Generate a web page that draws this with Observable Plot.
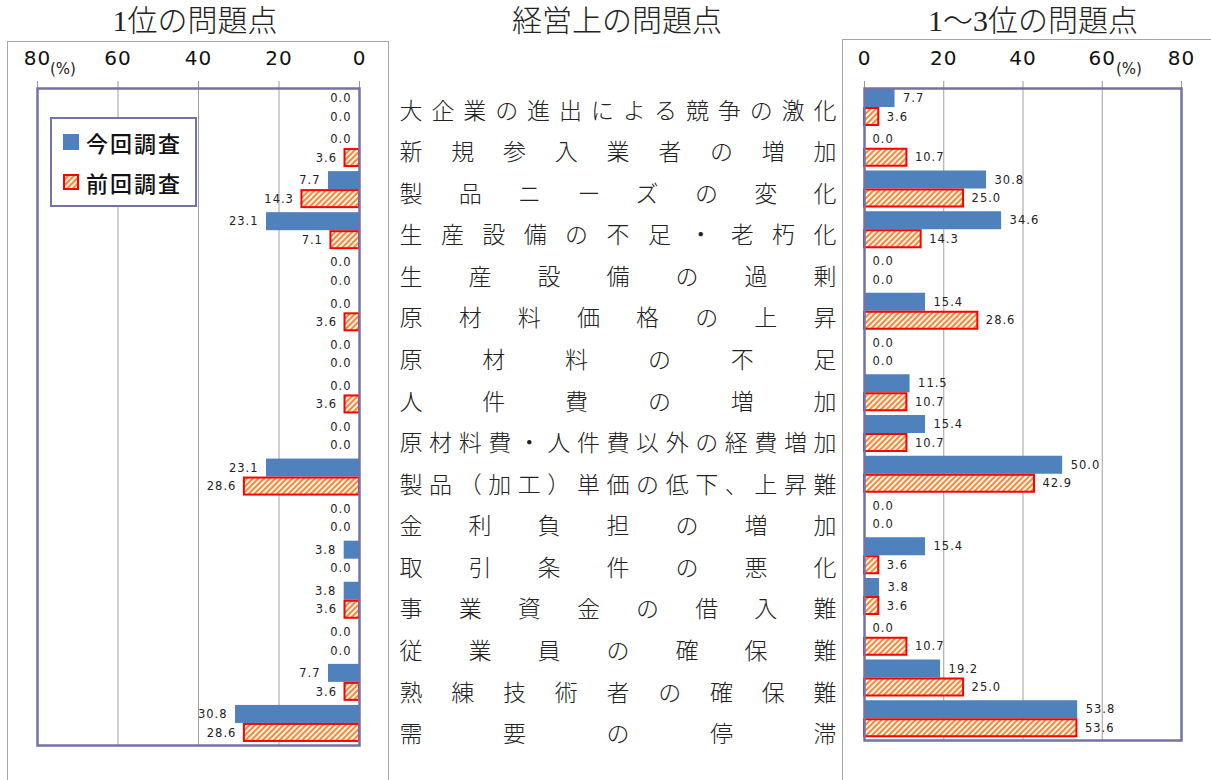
<!DOCTYPE html>
<html lang="ja">
<head>
<meta charset="utf-8">
<script src="https://cdn.jsdelivr.net/npm/d3@7"></script>
<script src="https://cdn.jsdelivr.net/npm/@observablehq/plot@0.6"></script>
<style>
  html, body { margin: 0; padding: 0; background: #fff; }
  #root { position: relative; width: 1211px; height: 780px; overflow: hidden; background: #fff; }
  .abs { position: absolute; }
  .title { position: absolute; top: 2px; font-family: "Liberation Serif", "Noto Sans CJK JP", serif; font-weight: 300; font-size: 30px; color: #222; transform: translateX(-50%); white-space: nowrap; line-height: 38px; }
  .outer { position: absolute; border: 1.5px solid #a6a6a6; border-bottom: none; pointer-events: none; z-index: 5; }
  .pct { position: absolute; font-family: "DejaVu Sans", sans-serif; font-size: 15px; color: #222; transform: translate(-50%, -50%); white-space: nowrap; }
  .legend { position: absolute; left: 50px; top: 117px; width: 143px; height: 86px; border: 2px solid #7373a6; background: #fff; z-index: 6; font-family: "Noto Sans CJK JP", sans-serif; font-weight: 500; font-size: 22px; letter-spacing: 2px; color: #111; }
  .legend .row { position: absolute; left: 11px; display: flex; align-items: center; height: 24px; }
</style>
</head>
<body>
<svg width="0" height="0" style="position:absolute">
  <defs>
    <pattern id="hatch" patternUnits="userSpaceOnUse" width="4" height="4" patternTransform="rotate(45)">
      <rect x="0" y="0" width="4" height="4" fill="#ffffff"></rect>
      <rect x="0" y="0" width="2.2" height="4" fill="#f28a3a"></rect>
    </pattern>
  </defs>
</svg>
<div id="root"></div>
<script>
// ---- data ----
const categories = [
  "大企業の進出による競争の激化",
  "新規参入業者の増加",
  "製品ニーズの変化",
  "生産設備の不足・老朽化",
  "生産設備の過剰",
  "原材料価格の上昇",
  "原材料の不足",
  "人件費の増加",
  "原材料費・人件費以外の経費増加",
  "製品（加工）単価の低下、上昇難",
  "金利負担の増加",
  "取引条件の悪化",
  "事業資金の借入難",
  "従業員の確保難",
  "熟練技術者の確保難",
  "需要の停滞"
];
const seriesNames = ["今回調査", "前回調査"];
const rank1Current  = [0.0, 0.0, 7.7, 23.1, 0.0, 0.0, 0.0, 0.0, 0.0, 23.1, 0.0, 3.8, 3.8, 0.0, 7.7, 30.8];
const rank1Previous = [0.0, 3.6, 14.3, 7.1, 0.0, 3.6, 0.0, 3.6, 0.0, 28.6, 0.0, 0.0, 3.6, 0.0, 3.6, 28.6];
const rank13Current  = [7.7, 0.0, 30.8, 34.6, 0.0, 15.4, 0.0, 11.5, 15.4, 50.0, 0.0, 15.4, 3.8, 0.0, 19.2, 53.8];
const rank13Previous = [3.6, 10.7, 25.0, 14.3, 0.0, 28.6, 0.0, 10.7, 10.7, 42.9, 0.0, 3.6, 3.6, 10.7, 25.0, 53.6];
const xTicks = [0, 20, 40, 60, 80];
const gridTicks = [20, 40, 60];
const titles = ["1位の問題点", "経営上の問題点", "1～3位の問題点"];

const BLUE = "#4f81bd";
const FRAME = "#7373a6";
const root = document.getElementById("root");

function panel(cur, prev, cfg) {
  const rows = categories.flatMap((c, i) => [
    {cat: c, s: seriesNames[0], v: cur[i]},
    {cat: c, s: seriesNames[1], v: prev[i]}
  ]);
  const bw = (cfg.height - cfg.mt - cfg.mb) / categories.length;
  const curRows = rows.filter(d => d.s === seriesNames[0]);
  const prevRows = rows.filter(d => d.s === seriesNames[1]);
  const left = cfg.reverse;
  return Plot.plot({
    width: cfg.width,
    height: cfg.height,
    marginTop: cfg.mt,
    marginBottom: cfg.mb,
    marginLeft: cfg.ml,
    marginRight: cfg.mr,
    style: {background: "transparent", overflow: "visible"},
    x: {domain: [0, 80], reverse: cfg.reverse, axis: null},
    y: {type: "band", domain: categories, padding: 0, round: false, axis: null},
    marks: [
      Plot.gridX(gridTicks, {stroke: "#a0a0a0", strokeOpacity: 1, strokeWidth: 1}),
      Plot.axisX(xTicks, {anchor: "top", tickSize: 8, tickPadding: 16, label: null,
        stroke: "#999", fill: "#111", fontSize: 20, fontFamily: "DejaVu Sans"}),
      Plot.barX(curRows.filter(d => d.v > 0), {
        x: "v", y: "cat", fill: BLUE, insetTop: 1, insetBottom: bw - 19
      }),
      Plot.barX(prevRows.filter(d => d.v > 0), {
        x: "v", y: "cat", fill: "url(#hatch)", stroke: "#ff0000", strokeWidth: 2,
        insetTop: 20, insetBottom: bw - 37
      }),
      Plot.text(curRows, {
        x: "v", y: "cat", text: d => d.v.toFixed(1), dy: 10 - bw / 2,
        dx: left ? -8 : 8, textAnchor: left ? "end" : "start",
        fontSize: 11.5, fontFamily: "DejaVu Sans", fill: "#222"
      }),
      Plot.text(prevRows, {
        x: "v", y: "cat", text: d => d.v.toFixed(1), dy: 28.5 - bw / 2,
        dx: left ? -8 : 8, textAnchor: left ? "end" : "start",
        fontSize: 11.5, fontFamily: "DejaVu Sans", fill: "#222"
      }),
      Plot.frame({stroke: FRAME, strokeWidth: 2.5})
    ]
  });
}

function place(el, x, y, w, h) {
  const d = document.createElement("div");
  d.className = "abs";
  d.style.left = x + "px"; d.style.top = y + "px";
  d.style.width = w + "px"; d.style.height = h + "px";
  d.appendChild(el);
  root.appendChild(d);
  return d;
}

// left panel (1位)
const leftSvg = panel(rank1Current, rank1Previous, {reverse: true, width: 400, height: 780, mt: 88, mb: 35, ml: 37, mr: 41});
d3.select(leftSvg).selectAll("text").style("letter-spacing", "1px");
place(leftSvg, 0, 0, 400, 780);

// right panel (1～3位)
const rightSvg = panel(rank13Current, rank13Previous, {reverse: false, width: 369, height: 780, mt: 88, mb: 40, ml: 22, mr: 30});
d3.select(rightSvg).selectAll("text").style("letter-spacing", "1px");
place(rightSvg, 842, 0, 369, 780);

// center labels
const centerSvg = Plot.plot({
  width: 450, height: 780,
  marginTop: 90, marginBottom: 25, marginLeft: 9, marginRight: 0,
  style: {background: "transparent"},
  y: {type: "band", domain: categories, padding: 0, round: false, axis: null},
  marks: [
    Plot.text(categories, {
      y: d => d, text: d => d, frameAnchor: "left", textAnchor: "start",
      fontSize: 23, fontFamily: "Noto Sans CJK JP", fontWeight: 300, fill: "#222"
    })
  ]
});
d3.select(centerSvg).selectAll("text").attr("textLength", 437).attr("lengthAdjust", "spacing");
place(centerSvg, 390, 0, 450, 780);

// outer frames
const o1 = document.createElement("div");
o1.className = "outer"; o1.style.left = "7px"; o1.style.top = "41px"; o1.style.width = "380px"; o1.style.height = "760px";
root.appendChild(o1);
const o2 = document.createElement("div");
o2.className = "outer"; o2.style.left = "842px"; o2.style.top = "39px"; o2.style.width = "400px"; o2.style.height = "760px";
root.appendChild(o2);

// titles
[[195, titles[0]], [617, titles[1]], [1033, titles[2]]].forEach(([x, t]) => {
  const d = document.createElement("div");
  d.className = "title"; d.style.left = x + "px"; d.textContent = t;
  root.appendChild(d);
});

// (%) unit labels
[[63, 69], [1129, 69]].forEach(([x, y]) => {
  const d = document.createElement("div");
  d.className = "pct"; d.style.left = x + "px"; d.style.top = y + "px"; d.textContent = "(%)";
  root.appendChild(d);
});

// legend
const lg = document.createElement("div");
lg.className = "legend";
seriesNames.forEach((name, i) => {
  const row = document.createElement("div");
  row.className = "row";
  row.style.top = (i === 0 ? 11 : 51) + "px";
  const sw = document.createElementNS("http://www.w3.org/2000/svg", "svg");
  sw.setAttribute("width", 16); sw.setAttribute("height", 16);
  sw.style.marginRight = "7px";
  if (i === 0) {
    sw.innerHTML = `<rect x="0" y="0" width="16" height="16" fill="${BLUE}"/>`;
  } else {
    sw.innerHTML = `<rect x="1" y="1" width="14" height="14" fill="url(#hatch)" stroke="#ff0000" stroke-width="2"/>`;
  }
  const tx = document.createElement("span");
  tx.textContent = name;
  row.appendChild(sw); row.appendChild(tx);
  lg.appendChild(row);
});
root.appendChild(lg);
</script>
</body>
</html>
